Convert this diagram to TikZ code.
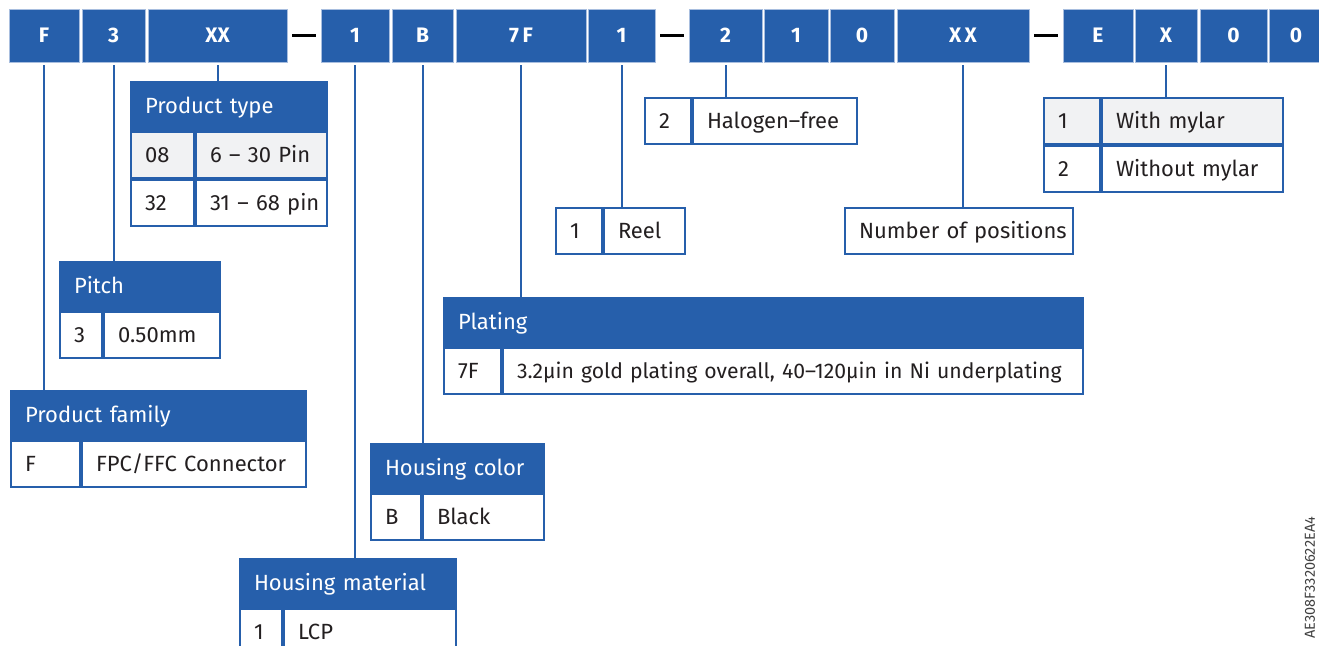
\documentclass[tikz,border=0pt]{standalone}
\usepackage{fontspec}
\setmainfont{Fira Sans}
\usepackage{tikz}
\usetikzlibrary{positioning}

\definecolor{acblue}{RGB}{38,95,171}
\definecolor{acedge}{RGB}{168,190,223}
\definecolor{acgray}{RGB}{241,242,243}
\definecolor{actext}{RGB}{35,31,32}

\tikzset{
  codebox/.style={fill=acblue, draw=acedge, line width=0.8pt, text=white, inner sep=0pt, outer sep=0pt,
    minimum height=53pt, text height=14.5pt, text depth=0pt, font=\bfseries\fontsize{21}{21}\selectfont},
  dashbar/.style={fill=black, inner sep=0pt, outer sep=0pt, minimum width=24pt, minimum height=2.6pt},
  cell/.style={draw=acblue, line width=2pt, anchor=north west, inner xsep=14pt, inner ysep=0pt,
    align=left, text=actext, text height=15.5pt, text depth=0pt, minimum height=46pt,
    font=\fontsize{22}{24}\selectfont,
    execute at begin node={\hbox\bgroup}, execute at end node={\egroup}},
  head/.style={cell, fill=acblue, text=white, minimum height=48pt},
  shaded/.style={cell, fill=acgray},
  link/.style={draw=acblue, line width=2pt, shorten <=3pt},
}

\begin{document}
\begin{tikzpicture}[x=1pt, y=-1pt]
        \useasboundingbox (0,0) rectangle (1319,645);
        \clip (0,0) rectangle (1319,645);

        % Code
        \node (cF) [codebox, anchor=north west, minimum width=70pt] at (9,9) {F};
        \node (c3) [codebox, right=3pt of cF, minimum width=63pt] {3};
        \node (cXX) [codebox, right=3pt of c3, minimum width=139pt] {XX};
        \node (d1) [dashbar, right=5pt of cXX] {};
        \node (c1) [codebox, right=5pt of d1, minimum width=68pt] {1};
        \node (cB) [codebox, right=3pt of c1, minimum width=61pt] {B};
        \node (c7F) [codebox, right=3pt of cB, minimum width=130pt] {7\,F};
        \node (cR) [codebox, right=2pt of c7F, minimum width=67pt] {1};
        \node (d2) [dashbar, right=5pt of cR] {};
        \node (c2) [codebox, right=5pt of d2, minimum width=73pt] {2};
        \node (c1b) [codebox, right=2pt of c2, minimum width=64pt] {1};
        \node (c0) [codebox, right=2pt of c1b, minimum width=64pt] {0};
        \node (cPos) [codebox, right=3pt of c0, minimum width=132pt] {X\,X};
        \node (d3) [dashbar, right=5pt of cPos] {};
        \node (cE) [codebox, right=5pt of d3, minimum width=70pt] {E};
        \node (cX) [codebox, right=2pt of cE, minimum width=62pt] {X};
        \node (c0b) [codebox, right=3pt of cX, minimum width=67pt] {0};
        \node (c0c) [codebox, right=2pt of c0b, minimum width=54pt] {0};

        % Product type
        \node (ptype) [head, text width=168pt] at (130,81) {Product type};
        \node (ptype1) [shaded, text width=35pt] at (ptype.south west) {08};
        \node (ptype1v) [shaded, text width=103pt] at (ptype1.north east) {6 – 30 Pin};
        \node (ptype2) [cell, text width=35pt] at (ptype1.south west) {32};
        \node (ptype2v) [cell, text width=103pt] at (ptype2.north east) {31 – 68 pin};

        % Pitch
        \node (pitch) [head, text width=132pt] at (59,261) {Pitch};
        \node (pitch1) [cell, text width=14pt] at (pitch.south west) {3};
        \node (pitch1v) [cell, text width=88pt] at (pitch1.north east) {0.50mm};

        % Product family
        \node (fam) [head, text width=267pt] at (10,390) {Product family};
        \node (fam1) [cell, text width=41pt] at (fam.south west) {F};
        \node (fam1v) [cell, text width=196pt] at (fam1.north east) {FPC/FFC Connector};

        % Housing material
        \node (mat) [head, text width=188pt] at (239,558) {Housing material};
        \node (mat1) [cell, text width=14pt] at (mat.south west) {1};
        \node (mat1v) [cell, text width=144pt] at (mat1.north east) {LCP};

        % Housing color
        \node (col) [head, text width=145pt] at (370,443) {Housing color};
        \node (col1) [cell, text width=22pt] at (col.south west) {B};
        \node (col1v) [cell, text width=93pt] at (col1.north east) {Black};

        % Plating
        \node (plat) [head, text width=611pt] at (443,297) {Plating};
        \node (plat1) [cell, text width=29pt] at (plat.south west) {7F};
        \node (plat1v) [cell, text width=552pt, font=\fontsize{21.2}{24}\selectfont] at (plat1.north east) {3.2µin gold plating overall, 40–120µin in Ni underplating};

        % Packing, halogen, positions, mylar
        \node (reel) [cell, text width=18pt] at (555,207) {1};
        \node (reelv) [cell, text width=53pt] at (reel.north east) {Reel};
        \node (halo) [cell, text width=18pt] at (644,97) {2};
        \node (halov) [cell, text width=136pt] at (halo.north east) {Halogen–free};
        \node (npos) [cell, text width=200pt] at (844,207) {Number of positions};
        \node (myl1) [shaded, text width=28pt] at (1043,97) {1};
        \node (myl1v) [shaded, text width=153pt] at (myl1.north east) {With mylar};
        \node (myl2) [cell, text width=28pt] at (myl1.south west) {2};
        \node (myl2v) [cell, text width=153pt] at (myl2.north east) {Without mylar};

        \node (docid) [rotate=90, text=black!75, font=\fontsize{14.5}{14.5}\selectfont] at (1310,578) {AE308F3320622EA4};

        % Links
        \draw [link] (cF.south) -- (cF.south |- fam.north);
        \draw [link] (c3.south) -- (c3.south |- pitch.north);
        \draw [link] (cXX.south) -- (cXX.south |- ptype.north);
        \draw [link] (c1.south) -- (c1.south |- mat.north);
        \draw [link] (cB.south) -- (cB.south |- col.north);
        \draw [link] (c7F.south) -- (c7F.south |- plat.north);
        \draw [link] (cR.south) -- (cR.south |- reel.north);
        \draw [link] (c2.south) -- (c2.south |- halo.north);
        \draw [link] (cPos.south) -- (cPos.south |- npos.north);
        \draw [link] (cX.south) -- (cX.south |- myl1.north);
    \end{tikzpicture}
\end{document}
